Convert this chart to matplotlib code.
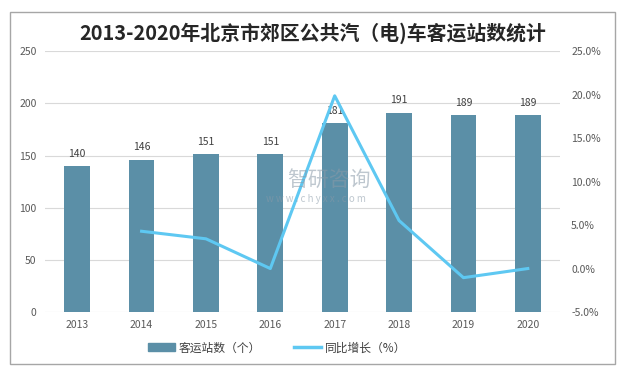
import matplotlib.pyplot as plt
from matplotlib.patches import Rectangle
from matplotlib.lines import Line2D

plt.rcParams['font.family'] = ['Noto Sans CJK SC', 'DejaVu Sans']

# data
years = ["2013", "2014", "2015", "2016", "2017", "2018", "2019", "2020"]
stations = [140, 146, 151, 151, 181, 191, 189, 189]
growth = [None, 4.29, 3.42, 0.0, 19.87, 5.52, -1.05, 0.0]

bar_color = "#5b8fa7"
line_color = "#5ec8f2"
txt_color = "#595959"

fig = plt.figure(figsize=(6.25, 3.71), dpi=100)
ax = fig.add_axes([0.072, 0.159, 0.824, 0.703])

x = list(range(len(years)))
ax.bar(x, stations, width=0.4, color=bar_color, zorder=2)
for xi, v in zip(x, stations):
    ax.text(xi, v + 7, str(v), ha="center", va="bottom", fontsize=7.5, color="#404040")

ax.set_xlim(-0.5, len(years) - 0.5)
ax.set_ylim(0, 250)
ax.set_yticks(range(0, 251, 50))
ax.set_xticks(x)
ax.set_xticklabels(years)
ax.grid(axis="y", color="#d9d9d9", linewidth=0.8, zorder=0)
ax.tick_params(length=0, labelsize=7.5, colors=txt_color, pad=6)
for s in ax.spines.values():
    s.set_visible(False)

ax2 = ax.twinx()
gx = [xi for xi, g in zip(x, growth) if g is not None]
gy = [g for g in growth if g is not None]
ax2.plot(gx, gy, color=line_color, linewidth=2.2, zorder=3)
ax2.set_ylim(-5, 25)
ax2.set_yticks(range(-5, 26, 5))
ax2.set_yticklabels([f"{v:.1f}%" for v in range(-5, 26, 5)])
ax2.tick_params(length=0, labelsize=7.5, colors=txt_color, pad=8)
for s in ax2.spines.values():
    s.set_visible(False)

# watermark
fig.text(0.527, 0.515, "智研咨询", ha="center", va="center", fontsize=15,
         color="#8a9aa8", alpha=0.55)
fig.text(0.505, 0.463, "w w w . c h y x x . c o m", ha="center", va="center",
         fontsize=7, color="#8a9aa8", alpha=0.55)

fig.suptitle("2013-2020年北京市郊区公共汽（电)车客运站数统计", y=0.94,
             fontsize=14.3, fontweight="bold", color="#262626")

handles = [Rectangle((0, 0), 1, 1, color=bar_color),
           Line2D([0], [0], color=line_color, linewidth=2.5)]
fig.legend(handles, ["客运站数（个）", "同比增长（%）"], loc="center",
           bbox_to_anchor=(0.443, 0.062), ncol=2, frameon=False, fontsize=8.5,
           columnspacing=2.8, handlelength=2.3, handletextpad=0.3,
           labelcolor="#404040")

fig.patches.append(Rectangle((0.016, 0.019), 0.968, 0.948, transform=fig.transFigure,
                             fill=False, edgecolor="#a6a6a6", linewidth=1))

fig.savefig("out.png", dpi=100)
